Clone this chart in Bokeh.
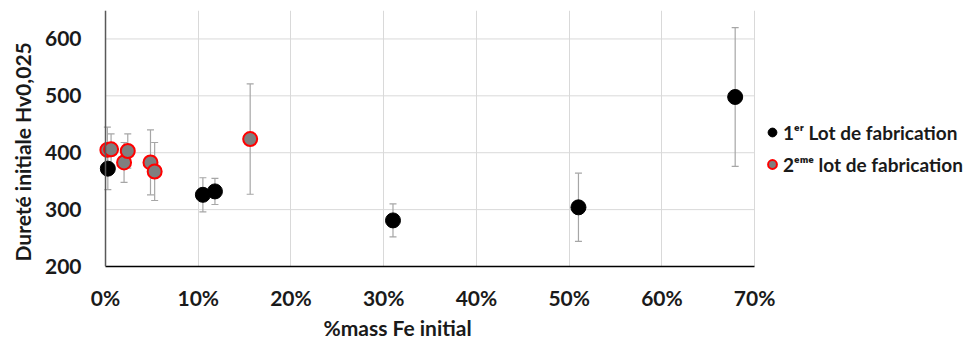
from bokeh.plotting import figure
from bokeh.models import (Range1d, FixedTicker, NumeralTickFormatter, Whisker, TeeHead,
                          ColumnDataSource, Legend, LegendItem, Title, Span)
from bokeh.embed import file_html
from bokeh.resources import INLINE

# ---- data (fractions of mass Fe, hardness Hv0,025) ----
lot1_x = [0.0025, 0.105, 0.118, 0.310, 0.510, 0.679]
lot1_y = [372, 326, 332, 281, 304, 498]
lot1_err = [37, 30, 23, 29, 60, 122]

lot2_x = [0.002, 0.006, 0.020, 0.024, 0.0485, 0.053, 0.156]
lot2_y = [405, 406, 383, 403, 383, 367, 424]
lot2_err = [40, 27, 35, 30, 57, 51, 97]

x_ticks = [0.0, 0.1, 0.2, 0.3, 0.4, 0.5, 0.6, 0.7]
y_ticks = [200, 300, 400, 500, 600]

label1 = "1ᵉʳ Lot de fabrication"
label2 = "2ᵉᵐᵉ lot de fabrication"
x_title = "%mass Fe initial"
y_title = "Dureté initiale Hv0,025"

FONT = "Lato"
TXT = "#1a1a1a"
GRID = "#d9d9d9"

# frame spans to the right edge so the legend can sit beside the 0-70 % area
p = figure(width=973, height=339, output_backend="svg", toolbar_location=None,
           x_range=Range1d(-0.0108, 0.936), y_range=Range1d(200, 650),
           min_border_left=95, min_border_right=0, min_border_top=10, min_border_bottom=2)
p.outline_line_color = None
p.background_fill_color = "white"

# axes
p.xaxis.ticker = FixedTicker(ticks=x_ticks)
p.xaxis.formatter = NumeralTickFormatter(format="0%")
p.xaxis.bounds = (x_ticks[0], x_ticks[-1])
p.yaxis.ticker = FixedTicker(ticks=y_ticks)
for ax in (p.xaxis[0], p.yaxis[0]):
    ax.major_tick_line_color = None
    ax.minor_tick_line_color = None
    ax.major_tick_out = 0
    ax.major_tick_in = 0
    ax.minor_tick_out = 0
    ax.major_label_text_font = FONT
    ax.major_label_text_font_style = "bold"
    ax.major_label_text_font_size = "21px"
    ax.major_label_text_color = TXT
p.xaxis.axis_line_color = "black"
p.xaxis.axis_line_width = 1.5
p.yaxis.axis_line_color = None
p.xaxis.major_label_standoff = 18
p.yaxis.major_label_standoff = 14
# vertical axis line at 0 %
p.add_layout(Span(location=x_ticks[0], dimension="height", line_color="#595959",
                  line_width=1.5))

# grids (limited to the 0-70 % area)
p.xgrid.ticker = FixedTicker(ticks=x_ticks)
p.xgrid.grid_line_color = GRID
p.ygrid.visible = False
p.segment(x0=[x_ticks[0]] * len(y_ticks[1:]), y0=y_ticks[1:],
          x1=[x_ticks[-1]] * len(y_ticks[1:]), y1=y_ticks[1:],
          line_color=GRID, line_width=1, level="underlay")

# titles
p.add_layout(Title(text=x_title, align="left", offset=228, text_font=FONT,
                   text_font_style="bold", text_font_size="21px", text_color=TXT,
                   standoff=0), "below")
p.add_layout(Title(text=y_title, align="left", offset=5, text_font=FONT,
                   text_font_style="bold", text_font_size="21px", text_color=TXT,
                   standoff=14), "left")

# error bars
src1 = ColumnDataSource(dict(x=lot1_x, y=lot1_y,
                             lo=[v - e for v, e in zip(lot1_y, lot1_err)],
                             hi=[v + e for v, e in zip(lot1_y, lot1_err)]))
src2 = ColumnDataSource(dict(x=lot2_x, y=lot2_y,
                             lo=[v - e for v, e in zip(lot2_y, lot2_err)],
                             hi=[v + e for v, e in zip(lot2_y, lot2_err)]))
for s in (src1, src2):
    w = Whisker(source=s, base="x", lower="lo", upper="hi", dimension="height",
                line_color="#a6a6a6", line_width=1.2,
                upper_head=TeeHead(size=7, line_color="#a6a6a6", line_width=1.2),
                lower_head=TeeHead(size=7, line_color="#a6a6a6", line_width=1.2))
    p.add_layout(w)

r1 = p.scatter("x", "y", source=src1, size=15, fill_color="black", line_color="black")
r2 = p.scatter("x", "y", source=src2, size=14, fill_color="#7f7f7f", line_color="#ff0000",
               line_width=2)

legend = Legend(items=[LegendItem(label=label1, renderers=[r1]),
                       LegendItem(label=label2, renderers=[r2])],
                location=(666, 86), orientation="vertical",
                glyph_width=22, glyph_height=32, label_standoff=0, spacing=0,
                padding=0, margin=0, border_line_color=None, background_fill_alpha=0,
                label_text_font=FONT, label_text_font_style="bold",
                label_text_font_size="19px", label_text_color=TXT)
p.add_layout(legend, "center")

open("out.html", "w").write(file_html(p, INLINE))
